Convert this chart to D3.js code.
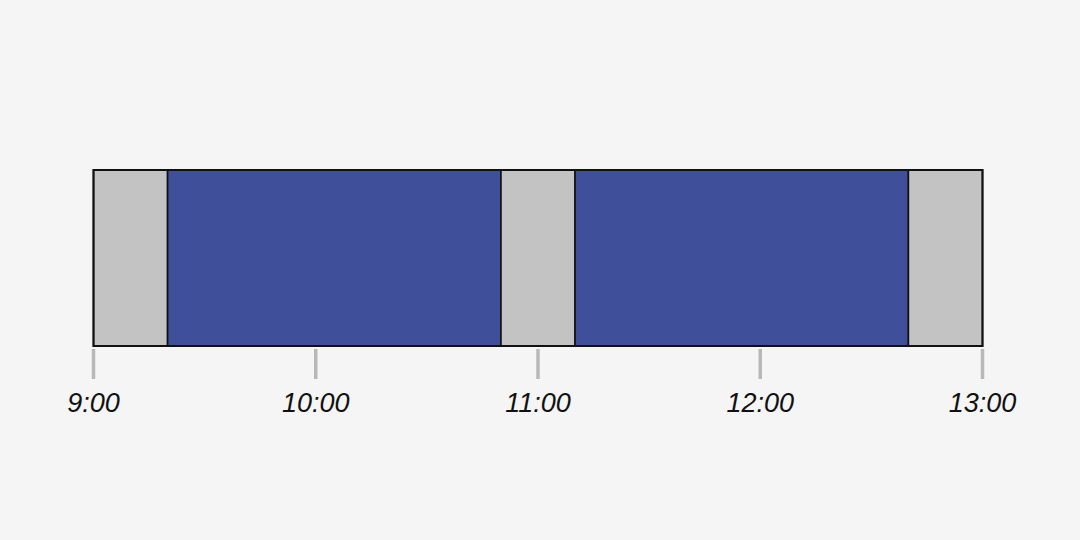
<!DOCTYPE html>
<html>
<head>
<meta charset="utf-8">
<script src="https://cdn.jsdelivr.net/npm/d3@7"></script>
<style>
  html, body { margin: 0; padding: 0; background: #f5f5f5; }
  svg { display: block; }
</style>
</head>
<body>
<script>
// Segments (minutes after 9:00)
const segStart = [0, 20, 110, 130, 220];
const segEnd   = [20, 110, 130, 220, 240];
const segType  = ["break", "session", "break", "session", "break"];
const tickMinutes = [0, 60, 120, 180, 240];
const tickLabels = ["9:00", "10:00", "11:00", "12:00", "13:00"];

const W = 1080, H = 540;
const colors = { session: "#3f4f99", break: "#c3c3c3" };

const svg = d3.select("body").append("svg").attr("width", W).attr("height", H);
svg.append("rect").attr("width", W).attr("height", H).attr("fill", "#f5f5f5");

const x = d3.scaleLinear().domain([0, 240]).range([93.5, 982.5]);
const barTop = 170, barBottom = 346;

const segs = segStart.map((s, i) => ({ s, e: segEnd[i], t: segType[i] }));

svg.append("g").selectAll("rect").data(segs).join("rect")
  .attr("x", d => x(d.s))
  .attr("y", barTop)
  .attr("width", d => x(d.e) - x(d.s))
  .attr("height", barBottom - barTop)
  .attr("fill", d => colors[d.t])
  .attr("stroke", "#111")
  .attr("stroke-width", 1.6);

// outer frame
svg.append("rect")
  .attr("x", x(0)).attr("y", barTop)
  .attr("width", x(240) - x(0)).attr("height", barBottom - barTop)
  .attr("fill", "none").attr("stroke", "#111").attr("stroke-width", 2);

// ticks
const axis = svg.append("g");
axis.selectAll("line").data(tickMinutes).join("line")
  .attr("x1", d => x(d)).attr("x2", d => x(d))
  .attr("y1", 349).attr("y2", 379)
  .attr("stroke", "#b8b8b8").attr("stroke-width", 3.5);

axis.selectAll("text").data(tickMinutes).join("text")
  .attr("x", d => x(d))
  .attr("y", 411.5)
  .attr("text-anchor", "middle")
  .attr("font-family", "'Liberation Sans', Arial, sans-serif")
  .attr("font-style", "italic")
  .attr("font-size", 27)
  .attr("fill", "#111")
  .text((d, i) => tickLabels[i]);
</script>
</body>
</html>
